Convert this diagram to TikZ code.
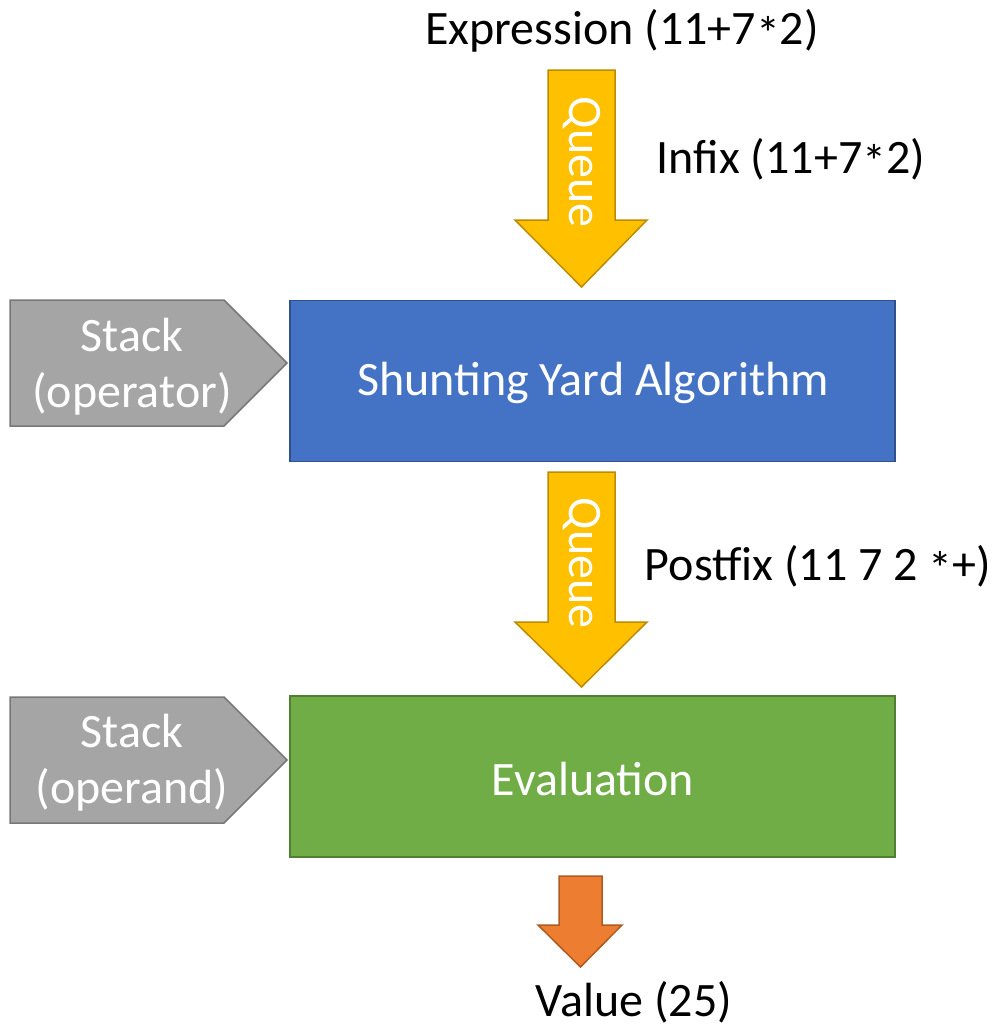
\documentclass[tikz,border=0pt]{standalone}
\usepackage{fontspec}
\setmainfont{Carlito}
\definecolor{bluef}{HTML}{4472C4}\definecolor{bluee}{HTML}{2F528F}
\definecolor{greenf}{HTML}{70AD47}\definecolor{greene}{HTML}{507E32}
\definecolor{goldf}{HTML}{FFC000}\definecolor{golde}{HTML}{BC8C00}
\definecolor{orangef}{HTML}{ED7D31}\definecolor{orangee}{HTML}{AE5A21}
\definecolor{grayf}{HTML}{A5A5A5}\definecolor{graye}{HTML}{787878}
\newcommand{\myast}{\raisebox{-0.12em}{*}}
\begin{document}
\begin{tikzpicture}[x=1pt,y=-1pt,
  lbl/.style={font=\fontsize{48}{58}\selectfont, text=black, inner sep=0pt},
  wlbl/.style={font=\fontsize{48}{56}\selectfont, text=white, inner sep=0pt, align=center},
  bigbox/.style={draw, line width=1.5pt, minimum width=605pt, minimum height=161pt, inner sep=0pt},
  garrow/.style={fill=goldf, draw=golde, line width=1.5pt, line join=miter},
  oarrow/.style={fill=orangef, draw=orangee, line width=1.5pt},
  pent/.style={fill=grayf, draw=graye, line width=1.5pt}]
\useasboundingbox (0,0) rectangle (995,1029);
% boxes
\node[bigbox, fill=bluef, draw=bluee] (sya) at (592.5,381) {};
\node[wlbl] (syat) at (593,383) {Shunting Yard Algorithm};
\node[bigbox, fill=greenf, draw=greene] (ev) at (592.5,776.5) {};
\node[wlbl] (evt) at (593,779) {Evaluation};
% queue arrows
\draw[garrow] (548,70) -- (615,70) -- (615,220) -- (647,220) -- (581.5,287) -- (515,220) -- (548,220) -- cycle;
\node[wlbl, rotate=-90] (q1) at (581.5,162) {Queue};
\draw[garrow] (548,472) -- (615,472) -- (615,622) -- (647,622) -- (581.5,687) -- (515,622) -- (548,622) -- cycle;
\node[wlbl, rotate=-90] (q2) at (581.5,563) {Queue};
% orange arrow
\draw[oarrow] (559,876) -- (602,876) -- (602,925) -- (622,925) -- (580.5,967) -- (538,925) -- (559,925) -- cycle;
% stacks
\draw[pent] (10,300) -- (224,300) -- (287,363) -- (224,426) -- (10,426) -- cycle;
\node[wlbl] (s1) at (132,367) {Stack\\(operator)};
\draw[pent] (10,697) -- (224,697) -- (287,760) -- (224,823) -- (10,823) -- cycle;
\node[wlbl] (s2) at (132,763) {Stack\\(operand)};
% labels
\node[lbl] (expr) at (622,31) {Expression (11+7\myast2)};
\node[lbl] (infix) at (791,159) {Infix (11+7\myast2)};
\node[lbl] (post) at (818,566) {Postfix (11 7 2 \myast+)};
\node[lbl] (val) at (634,1002) {Value (25)};
\end{tikzpicture}
\end{document}
